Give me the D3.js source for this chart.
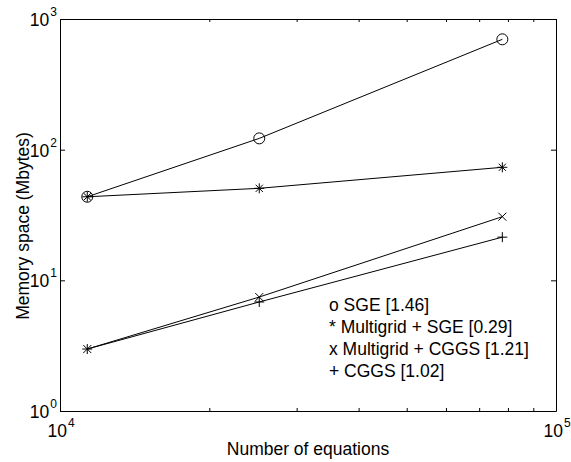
<!DOCTYPE html>
<html>
<head>
<meta charset="utf-8">
<script src="https://cdn.jsdelivr.net/npm/d3@7"></script>
<style>
  body { margin: 0; background: #fff; }
  text { font-family: "Liberation Sans", Arial, sans-serif; fill: #000; }
</style>
</head>
<body>
<svg id="chart" width="571" height="462"></svg>
<script>
// values
const equations = [11350, 25220, 77950];
const sge = [43.6, 122, 699];
const mgSge = [43.6, 50.6, 73.3];
const mgCggs = [2.98, 7.45, 30.7];
const cggs = [2.98, 6.83, 21.4];
const legendLines = ["o SGE [1.46]", "* Multigrid + SGE [0.29]", "x Multigrid + CGGS [1.21]", "+ CGGS [1.02]"];
const xTickExps = [4, 5];
const xMinorTicks = [2e4, 3e4, 4e4, 5e4, 6e4, 7e4, 8e4, 9e4];
const yTickExps = [0, 1, 2, 3];

const buildVis = (svg_name) => {
    let chart = d3.select(svg_name);
    let chart_width = +chart.attr("width");
    let chart_height = +chart.attr("height");
    let margin = { left: 60, right: 15, top: 19, bottom: 51 };

    let x = d3.scaleLog().domain([1e4, 1e5]).range([margin.left, chart_width - margin.right]);
    let y = d3.scaleLog().domain([1, 1e3]).range([chart_height - margin.bottom, margin.top]);

    let xTicks = xTickExps.map(e => Math.pow(10, e)).concat(xMinorTicks);
    let yTicks = yTickExps.map(e => Math.pow(10, e));

    let axes = [
        [d3.axisBottom(x).tickValues(xTicks).tickSizeInner(-3), "translate(0," + y(1) + ")"],
        [d3.axisTop(x).tickValues(xTicks).tickSizeInner(-3), "translate(0," + y(1e3) + ")"],
        [d3.axisLeft(y).tickValues(yTicks).tickSizeInner(-5), "translate(" + x(1e4) + ",0)"],
        [d3.axisRight(y).tickValues(yTicks).tickSizeInner(-5), "translate(" + x(1e5) + ",0)"]
    ];
    axes.forEach(a => {
        let g = chart.append("g").attr("transform", a[1])
            .call(a[0].tickSizeOuter(0).tickFormat(""));
        g.select(".domain").attr("stroke", "#000").attr("stroke-width", 1);
        g.selectAll(".tick line").attr("stroke", "#000");
    });

    // tick labels with superscripts
    xTickExps.forEach(e => {
        let t = chart.append("text")
            .attr("x", x(Math.pow(10, e)) + 1)
            .attr("y", y(1) + 26)
            .attr("text-anchor", "middle")
            .style("font-size", "17.5px");
        t.append("tspan").text("10");
        t.append("tspan").attr("dy", -10).attr("dx", 1).style("font-size", "12px").text(e);
    });
    yTickExps.forEach(e => {
        let t = chart.append("text")
            .attr("x", x(1e4) - 3)
            .attr("y", y(Math.pow(10, e)) + 7)
            .attr("text-anchor", "end")
            .style("font-size", "17.5px");
        t.append("tspan").text("10");
        t.append("tspan").attr("dy", -10).attr("dx", 1).style("font-size", "12px").text(e);
    });

    // axis titles
    chart.append("text")
        .attr("x", (x.range()[0] + x.range()[1]) / 2)
        .attr("y", 455)
        .attr("text-anchor", "middle")
        .style("font-size", "17.5px")
        .text("Number of equations");
    chart.append("text")
        .attr("transform", "translate(29," + ((y.range()[0] + y.range()[1]) / 2 + 11) + ") rotate(-90)")
        .attr("text-anchor", "middle")
        .style("font-size", "17.5px")
        .text("Memory space (Mbytes)");

    // series
    let series = [
        { vals: sge, mark: "o" },
        { vals: mgSge, mark: "*" },
        { vals: mgCggs, mark: "x" },
        { vals: cggs, mark: "+" }
    ];
    let line = d3.line().x((d, i) => x(equations[i])).y(d => y(d));

    series.forEach(s => {
        chart.append("path")
            .attr("d", line(s.vals))
            .attr("fill", "none")
            .attr("stroke", "#000")
            .attr("stroke-width", 1);

        let marks = chart.append("g").selectAll("g")
            .data(s.vals)
            .enter().append("g")
            .attr("transform", (d, i) => "translate(" + x(equations[i]) + "," + y(d) + ")")
            .attr("stroke", "#000")
            .attr("stroke-width", 1)
            .attr("fill", "none");

        let r = 5;
        if (s.mark == "o") {
            marks.append("circle").attr("r", 5.5);
        }
        if (s.mark == "+" || s.mark == "*") {
            marks.append("path").attr("d", "M" + (-r) + ",0H" + r + "M0," + (-r) + "V" + r);
        }
        if (s.mark == "x" || s.mark == "*") {
            let q = s.mark == "*" ? 3.6 : 4;
            marks.append("path").attr("d", "M" + (-q) + "," + (-q) + "L" + q + "," + q + "M" + (-q) + "," + q + "L" + q + "," + (-q));
        }
    });

    // legend text
    chart.append("g").selectAll("text")
        .data(legendLines)
        .enter().append("text")
        .attr("x", 329)
        .attr("y", (d, i) => 311 + i * 22)
        .style("font-size", "17.5px")
        .text(d => d);
}

buildVis("#chart");
</script>
</body>
</html>
